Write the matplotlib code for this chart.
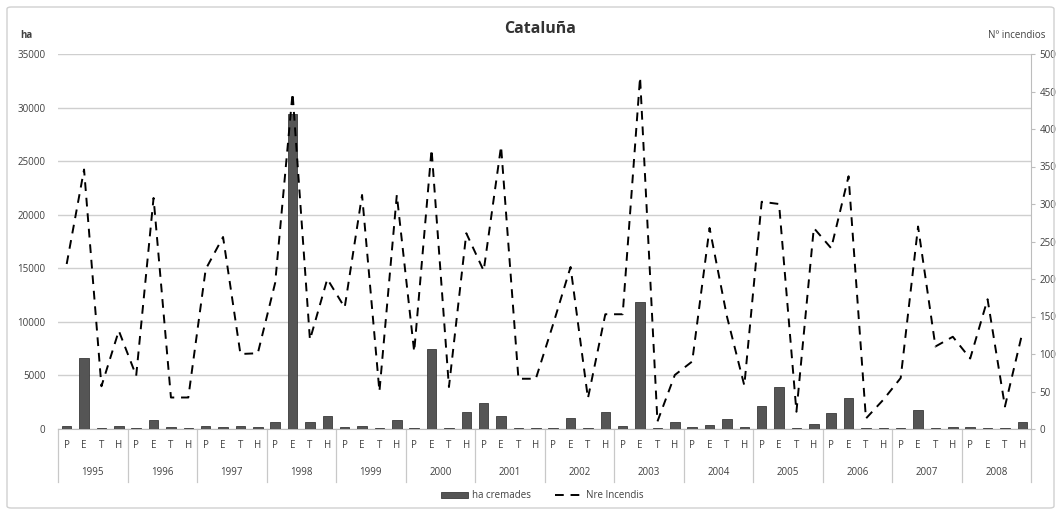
import matplotlib
matplotlib.use("Agg")
import matplotlib.pyplot as plt
from matplotlib.lines import Line2D
from matplotlib.patches import Patch, FancyBboxPatch
import numpy as np

years = ["1995", "1996", "1997", "1998", "1999", "2000", "2001",
         "2002", "2003", "2004", "2005", "2006", "2007", "2008"]
seasons = ["P", "E", "T", "H"]

ha_cremades = [300, 6600, 100, 250,
               60, 840, 190, 60,
               280, 190, 310, 190,
               620, 29400, 620, 1250,
               220, 250, 120, 870,
               60, 7500, 60, 1620,
               2430, 1180, 120, 60,
               120, 1060, 60, 1620,
               250, 11900, 60, 620,
               190, 400, 930, 150,
               2120, 3890, 60, 500,
               1500, 2870, 60, 60,
               60, 1800, 60, 150,
               150, 60, 60, 620]

nre_incendis = [220, 346, 57, 131,
                71, 308, 42, 42,
                213, 256, 100, 101,
                195, 448, 119, 200,
                162, 312, 50, 312,
                103, 373, 56, 261,
                211, 377, 67, 67,
                140, 216, 41, 153,
                153, 469, 10, 72,
                90, 268, 150, 58,
                303, 300, 23, 268,
                241, 337, 14, 39,
                68, 270, 110, 123,
                94, 173, 30, 128]

text_col = "#404040"
plt.rcParams["font.family"] = ["Open Sans", "DejaVu Sans"]
fs = 7

fig = plt.figure(figsize=(10.61, 5.12), dpi=100)
border = FancyBboxPatch((7 / 1061, 4 / 512), 1047 / 1061, 501 / 512,
                        boxstyle="round,pad=0,rounding_size=0.004",
                        transform=fig.transFigure, fill=False,
                        edgecolor="#d0d0d0", linewidth=1)
fig.patches.append(border)

ax = fig.add_axes([58 / 1061, 1 - 429 / 512, (1031 - 58) / 1061, 375 / 512])
ax2 = ax.twinx()

n = len(ha_cremades)
x = np.arange(n)
ax.bar(x, ha_cremades, width=0.55, color="#555555", edgecolor="#3a3a3a",
       linewidth=0.6, zorder=3)
ax2.plot(x, nre_incendis, color="black", linestyle=(0, (4.5, 3.5)),
         linewidth=1.4, zorder=4)

ax.set_xlim(-0.5, n - 0.5)
ax.set_ylim(0, 35000)
ax.set_yticks(np.arange(0, 35001, 5000))
ax2.set_ylim(0, 500)
ax2.set_yticks(np.arange(0, 501, 50))

ax.grid(axis="y", color="#cfcfcf", linewidth=1, zorder=0)
ax.set_axisbelow(True)
ax.set_xticks([])
for s in ["top", "left", "right"]:
    ax.spines[s].set_visible(False)
    ax2.spines[s].set_visible(False)
ax2.spines["right"].set_visible(True)
ax2.spines["right"].set_color("#bdbdbd")
ax2.spines["bottom"].set_visible(False)
ax.spines["bottom"].set_color("#bdbdbd")

ax.tick_params(axis="y", length=0, labelsize=fs, labelcolor=text_col, pad=9)
ax2.tick_params(axis="y", length=3, color="#bdbdbd", labelsize=fs,
                labelcolor=text_col, pad=3)

trans = ax.get_xaxis_transform()
for i in range(n):
    ax.text(i, -0.045, seasons[i % 4], transform=trans, ha="center",
            va="center", fontsize=fs, color=text_col)
for j, yr in enumerate(years):
    ax.text(j * 4 + 1.5, -0.117, yr, transform=trans, ha="center",
            va="center", fontsize=fs, color=text_col)
for j in range(len(years) + 1):
    ax.add_line(Line2D([j * 4 - 0.5, j * 4 - 0.5], [0, -0.141],
                       transform=trans, color="#c8c8c8", linewidth=0.9,
                       clip_on=False))

fig.text(540 / 1061, 1 - 29 / 512, "Cataluña", ha="center", va="center",
         fontsize=11.5, fontweight="bold", color="#333333")
fig.text(20 / 1061, 1 - 36 / 512, "ha", ha="left", va="center",
         fontsize=fs, fontweight="bold", color=text_col)
fig.text(1045 / 1061, 1 - 36 / 512, "Nº incendios", ha="right", va="center",
         fontsize=fs, color=text_col)

handles = [Patch(facecolor="#555555", edgecolor="#3a3a3a", linewidth=0.6),
           Line2D([0], [0], color="black", linestyle=(0, (4.5, 3.5)),
                  linewidth=1.4)]
fig.legend(handles, ["ha cremades", "Nre Incendis"], loc="center",
           bbox_to_anchor=(0.511, 1 - 496 / 512), ncol=2, frameon=False,
           fontsize=fs, labelcolor=text_col, handlelength=2.8,
           handleheight=0.6, columnspacing=2.5, handletextpad=0.4)

fig.savefig("out.png", dpi=100)
